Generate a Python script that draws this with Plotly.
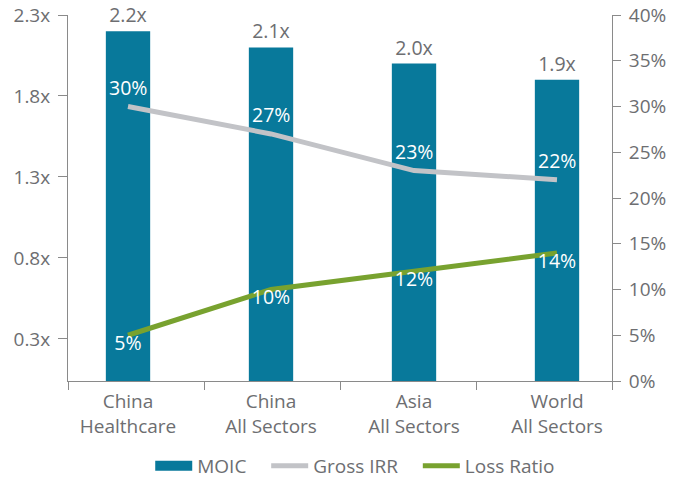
import numpy as np
import plotly.graph_objects as go

# Portfolio return comparison by segment
categories = ["China<br>Healthcare", "China<br>All Sectors", "Asia<br>All Sectors", "World<br>All Sectors"]
moic = [2.2, 2.1, 2.0, 1.9]
gross_irr = [30, 27, 23, 22]
loss_ratio = [5, 10, 12, 14]

left_ticks = [0.3, 0.8, 1.3, 1.8, 2.3]
right_ticks = [0, 5, 10, 15, 20, 25, 30, 35, 40]

BAR = "#08799b"
IRR = "#c2c3c7"
LOSS = "#78a22f"
AXIS = "#8a8a8a"
TXT = "#6d6e71"
FONT = "Open Sans"
PAD = "\u00a0" * 3  # extra room between legend entries

xpos = list(range(len(categories)))
x_range = [-0.4196, 3.3846]
boundaries = np.linspace(x_range[0], x_range[1], len(categories) + 1)

fig = go.Figure()

fig.add_trace(go.Bar(
    x=xpos, y=moic, name="MOIC", marker=dict(color=BAR, line=dict(width=0)),
    text=[f"{v:.1f}x" for v in moic], textposition="outside",
    textfont=dict(color=TXT, size=19.5, family=FONT), cliponaxis=False,
    width=0.31, showlegend=False,
))
# legend swatch for the bars
fig.add_trace(go.Scatter(
    x=[None], y=[None], mode="lines", name="MOIC" + PAD,
    line=dict(color=BAR, width=13),
))
fig.add_trace(go.Scatter(
    x=xpos, y=gross_irr, name="Gross IRR" + PAD, yaxis="y2", mode="lines",
    line=dict(color=IRR, width=5),
))
fig.add_trace(go.Scatter(
    x=xpos, y=loss_ratio, name="Loss Ratio", yaxis="y2", mode="lines+text",
    line=dict(color=LOSS, width=5),
    text=[f"{v}%" for v in loss_ratio], textposition="bottom center",
    textfont=dict(color="white", size=19.5, family=FONT),
))

# Gross IRR value labels sit a little higher above the line
for xi, v in zip(xpos, gross_irr):
    fig.add_annotation(
        x=xi, y=v, xref="x", yref="y2", text=f"{v}%", showarrow=False,
        xanchor="center", yanchor="middle", yshift=19,
        font=dict(color="white", size=19.5, family=FONT),
    )

fig.update_layout(
    width=684, height=478,
    margin=dict(l=68, r=72, t=15, b=97, autoexpand=False),
    paper_bgcolor="white", plot_bgcolor="white",
    font=dict(family=FONT, color=TXT, size=19),
    xaxis=dict(
        range=x_range, tickmode="array", tickvals=xpos, ticktext=categories,
        ticks="", showgrid=False, zeroline=False,
        showline=True, linecolor=AXIS, linewidth=1,
        tickfont=dict(size=19, color=TXT), ticklabelstandoff=3,
        minor=dict(tickmode="array", tickvals=list(boundaries), ticks="outside",
                   ticklen=8, tickcolor=AXIS, tickwidth=1, showgrid=False),
    ),
    yaxis=dict(
        range=[0.04, 2.3], tickmode="array", tickvals=left_ticks,
        ticktext=[f"{v:.1f}x" for v in left_ticks],
        ticks="outside", ticklen=9, tickcolor=AXIS, tickwidth=1,
        showline=True, linecolor=AXIS, linewidth=1, showgrid=False, zeroline=False,
        tickfont=dict(size=19, color=TXT), ticklabelstandoff=4,
    ),
    yaxis2=dict(
        overlaying="y", side="right", range=[0, 40], tickmode="array",
        tickvals=right_ticks, ticktext=[f"{v}%" for v in right_ticks],
        ticks="outside", ticklen=8, tickcolor=AXIS, tickwidth=1,
        showline=True, linecolor=AXIS, linewidth=1, showgrid=False, zeroline=False,
        tickfont=dict(size=19, color=TXT), ticklabelstandoff=4,
    ),
    legend=dict(
        orientation="h", x=0.528, xanchor="center", y=-0.232, yanchor="middle",
        font=dict(size=19, color=TXT), itemwidth=37, traceorder="normal",
    ),
)

fig.write_html("out.html")
